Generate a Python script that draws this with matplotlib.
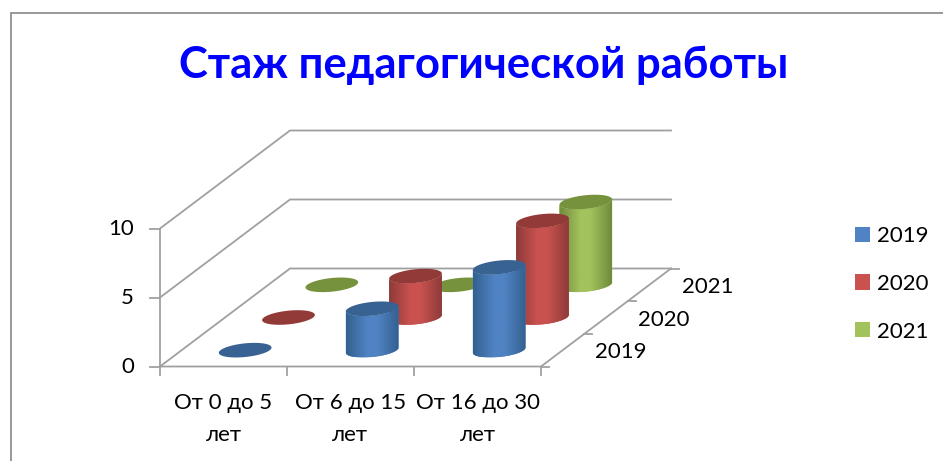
import matplotlib
matplotlib.use("Agg")
import matplotlib.pyplot as plt
import numpy as np
from matplotlib.colors import LinearSegmentedColormap
from matplotlib.patches import Patch, Polygon

plt.rcParams["font.family"] = ["Lato", "Open Sans", "DejaVu Sans"]

# Data
title = "Стаж педагогической работы"
categories = ["От 0 до 5\nлет", "От 6 до 15\nлет", "От 16 до 30\nлет"]
series_names = ["2019", "2020", "2021"]
values_2019 = [0, 3, 6]
values_2020 = [0, 3, 7]
values_2021 = [0, 0, 6]
y_ticks = [0, 5, 10]

# (edge of the side, middle of the side, top cap)
colors_2019 = ("#33608f", "#5083c3", "#386292")
colors_2020 = ("#8c3b39", "#c9524f", "#923a38")
colors_2021 = ("#708b3c", "#a2c25c", "#76923c")
grid_color = "#a0a0a0"
frame_color = "#868686"

# Projection of the oblique 3d box onto pixels
X0, Y0 = 160, 366.5
CAT_W = 127
DEPTH_X, DEPTH_Y = 130 / 3, 98 / 3
VAL_H = 13.8
RX, RY = 26.5, 6.8
TILT = np.deg2rad(6)
FS = 16


def project(cat, depth, val):
    return X0 + cat * CAT_W + depth * DEPTH_X, Y0 - val * VAL_H - depth * DEPTH_Y


def ellipse_points(cx, cy, t):
    x = cx + RX * np.cos(t) * np.cos(TILT) + RY * np.sin(t) * np.sin(TILT)
    y = cy - RX * np.cos(t) * np.sin(TILT) + RY * np.sin(t) * np.cos(TILT)
    return np.column_stack([x, y])


def draw_cylinder(ax, cat, depth, val, colors, z):
    edge, mid, cap = colors
    cx, base_y = project(cat + 0.5, depth + 0.5, 0)
    _, top_y = project(cat + 0.5, depth + 0.5, val)
    if val > 0:
        t = np.linspace(0, np.pi, 40)
        side = np.vstack([ellipse_points(cx, base_y, t), ellipse_points(cx, top_y, t[::-1])])
        poly = Polygon(side, closed=True, fc=mid, ec="none", zorder=z)
        ax.add_patch(poly)
        cmap = LinearSegmentedColormap.from_list(
            "c", [(0, edge), (0.4, mid), (0.6, mid), (1, edge)])
        grad = np.linspace(0, 1, 128).reshape(1, -1)
        im = ax.imshow(grad, cmap=cmap, aspect="auto", zorder=z + 0.1, interpolation="bilinear",
                       extent=[side[:, 0].min(), side[:, 0].max(), side[:, 1].max(), side[:, 1].min()])
        im.set_clip_path(poly)
    t = np.linspace(0, 2 * np.pi, 80)
    ax.fill(*ellipse_points(cx, top_y, t).T, fc=cap, ec="none", zorder=z + 0.2)


fig = plt.figure(figsize=(9.43, 4.61), dpi=100)
ax = fig.add_axes([0, 0, 1, 1])
ax.set_xlim(0, 943)
ax.set_ylim(461, 0)
ax.axis("off")

# Outer frame, cut by the image on the right and at the bottom
ax.plot([10.5, 10.5, 943], [461, 13.5, 13.5], color=frame_color, lw=1.2, solid_joinstyle="miter")

ax.text(483.5, 65, title, color="#0000ff", fontsize=31.4, fontweight="bold", ha="center", va="center")

# Walls and floor
n_cat, n_depth = len(categories), len(series_names)
for v in y_ticks:
    pts = [project(0, 0, v), project(0, n_depth, v), project(n_cat, n_depth, v)]
    ax.plot(*zip(*pts), color=grid_color, lw=1.3, zorder=1)
    x, y = project(0, 0, v)
    ax.plot([x - 10, x], [y, y], color=grid_color, lw=1.3, zorder=1)
    ax.text(x - 26, y, str(v), fontsize=FS, ha="right", va="center", color="#000000")
pts = [project(0, 0, 0), project(0, 0, max(y_ticks))]
ax.plot(*zip(*pts), color=grid_color, lw=1.3, zorder=1)
pts = [project(0, 0, 0), project(n_cat, 0, 0), project(n_cat, n_depth, 0)]
ax.plot(*zip(*pts), color=grid_color, lw=1.3, zorder=1)

# Category axis
for i in range(n_cat + 1):
    x, y = project(i, 0, 0)
    ax.plot([x, x], [y, y + 8], color=grid_color, lw=1.3, zorder=1)
for i, label in enumerate(categories):
    x, y = project(i + 0.5, 0, 0)
    ax.text(x, y + 52.5, label, fontsize=FS, ha="center", va="center", linespacing=1.72)

# Depth axis
for i in range(n_depth + 1):
    x, y = project(n_cat, i, 0)
    ax.plot([x, x + 8], [y, y], color=grid_color, lw=1.3, zorder=1)
for i, label in enumerate(series_names):
    x, y = project(n_cat, i + 0.5, 0)
    ax.text(x + 58, y + 2, label, fontsize=FS, ha="center", va="center")

# Cylinders, painted from the back to the front
all_values = [values_2019, values_2020, values_2021]
all_colors = [colors_2019, colors_2020, colors_2021]
z = 2
for depth in range(n_depth - 1, -1, -1):
    for cat in range(n_cat):
        draw_cylinder(ax, cat, depth, all_values[depth][cat], all_colors[depth], z)
        z += 1

# imshow moves the limits, put the pixel ones back
ax.set_xlim(0, 943)
ax.set_ylim(461, 0)

handles = [Patch(fc=c[1], ec="none", label=n) for c, n in zip(all_colors, series_names)]
ax.legend(handles=handles, loc="upper left", bbox_to_anchor=(855, 226), bbox_transform=ax.transData,
          frameon=False, fontsize=FS, borderpad=0, borderaxespad=0, handlelength=0.68,
          handleheight=0.68, handletextpad=0.32, labelspacing=1.25)

fig.savefig("out.png", dpi=100, facecolor="white")
